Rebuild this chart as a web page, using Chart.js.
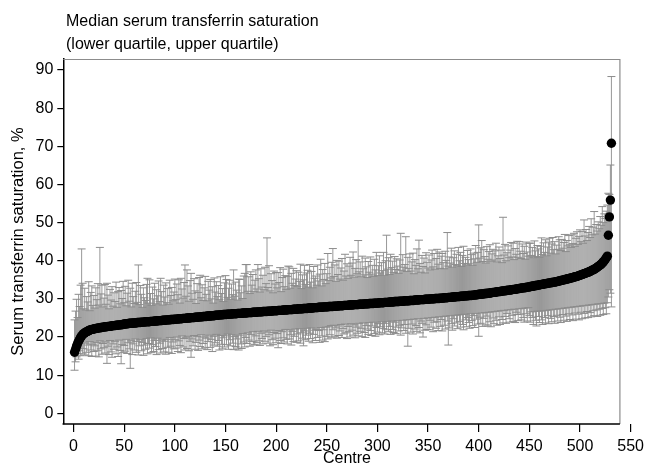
<!DOCTYPE html>
<html>
<head>
<meta charset="utf-8">
<script src="https://cdn.jsdelivr.net/npm/chart.js@4.4.1/dist/chart.umd.min.js"></script>
<style>
  html, body { margin: 0; padding: 0; background: #fff; }
  #wrap { width: 649px; height: 470px; }
</style>
</head>
<body>
<div id="wrap"><canvas id="chart" width="649" height="470"></canvas></div>
<script>
// Median serum transferrin saturation per centre, sorted, with quartiles

const median = [
  16.0,16.8,17.6,18.3,18.9,19.4,19.9,20.3,20.6,20.9,
  21.1,21.3,21.4,21.5,21.7,21.8,21.9,22.0,22.0,22.1,
  22.2,22.2,22.3,22.3,22.4,22.4,22.5,22.5,22.6,22.6,
  22.7,22.7,22.7,22.8,22.8,22.8,22.9,22.9,23.0,23.0,
  23.0,23.1,23.1,23.1,23.2,23.2,23.2,23.3,23.3,23.4,
  23.4,23.5,23.5,23.5,23.6,23.6,23.6,23.6,23.7,23.7,
  23.7,23.7,23.8,23.8,23.8,23.8,23.9,23.9,23.9,23.9,
  24.0,24.0,24.0,24.0,24.0,24.1,24.1,24.1,24.1,24.2,
  24.2,24.2,24.2,24.3,24.3,24.3,24.3,24.4,24.4,24.4,
  24.4,24.5,24.5,24.5,24.5,24.6,24.6,24.6,24.6,24.7,
  24.7,24.7,24.7,24.8,24.8,24.8,24.8,24.9,24.9,24.9,
  24.9,25.0,25.0,25.0,25.0,25.1,25.1,25.1,25.1,25.2,
  25.2,25.2,25.2,25.3,25.3,25.3,25.3,25.4,25.4,25.4,
  25.4,25.5,25.5,25.5,25.5,25.6,25.6,25.6,25.6,25.7,
  25.7,25.7,25.7,25.8,25.8,25.8,25.8,25.9,25.9,25.9,
  25.9,26.0,26.0,26.0,26.0,26.0,26.1,26.1,26.1,26.1,
  26.1,26.2,26.2,26.2,26.2,26.2,26.3,26.3,26.3,26.3,
  26.3,26.4,26.4,26.4,26.4,26.4,26.5,26.5,26.5,26.5,
  26.5,26.6,26.6,26.6,26.6,26.6,26.7,26.7,26.7,26.7,
  26.7,26.8,26.8,26.8,26.8,26.8,26.9,26.9,26.9,26.9,
  26.9,27.0,27.0,27.0,27.0,27.0,27.1,27.1,27.1,27.1,
  27.1,27.2,27.2,27.2,27.2,27.2,27.3,27.3,27.3,27.3,
  27.3,27.4,27.4,27.4,27.4,27.4,27.5,27.5,27.5,27.5,
  27.5,27.6,27.6,27.6,27.6,27.6,27.7,27.7,27.7,27.7,
  27.7,27.8,27.8,27.8,27.8,27.8,27.9,27.9,27.9,27.9,
  27.9,28.0,28.0,28.0,28.0,28.0,28.1,28.1,28.1,28.1,
  28.1,28.2,28.2,28.2,28.2,28.2,28.3,28.3,28.3,28.3,
  28.3,28.4,28.4,28.4,28.4,28.4,28.5,28.5,28.5,28.5,
  28.5,28.6,28.6,28.6,28.6,28.6,28.7,28.7,28.7,28.7,
  28.7,28.8,28.8,28.8,28.8,28.8,28.9,28.9,28.9,28.9,
  28.9,29.0,29.0,29.0,29.0,29.0,29.1,29.1,29.1,29.1,
  29.1,29.2,29.2,29.2,29.2,29.2,29.3,29.3,29.3,29.3,
  29.3,29.4,29.4,29.4,29.4,29.4,29.5,29.5,29.5,29.5,
  29.5,29.6,29.6,29.6,29.6,29.6,29.7,29.7,29.7,29.7,
  29.7,29.8,29.8,29.8,29.8,29.8,29.9,29.9,29.9,29.9,
  29.9,30.0,30.0,30.0,30.0,30.0,30.1,30.1,30.1,30.1,
  30.1,30.2,30.2,30.2,30.2,30.3,30.3,30.3,30.3,30.4,
  30.4,30.4,30.4,30.5,30.5,30.5,30.5,30.6,30.6,30.6,
  30.6,30.7,30.7,30.7,30.7,30.8,30.8,30.8,30.8,30.9,
  30.9,30.9,30.9,31.0,31.0,31.0,31.1,31.1,31.1,31.2,
  31.2,31.2,31.3,31.3,31.3,31.4,31.4,31.4,31.5,31.5,
  31.5,31.6,31.6,31.7,31.7,31.7,31.8,31.8,31.9,31.9,
  31.9,32.0,32.0,32.1,32.1,32.1,32.2,32.2,32.3,32.3,
  32.3,32.4,32.4,32.5,32.5,32.5,32.6,32.6,32.7,32.7,
  32.8,32.8,32.9,32.9,32.9,33.0,33.0,33.1,33.1,33.2,
  33.2,33.3,33.3,33.4,33.4,33.5,33.5,33.6,33.6,33.7,
  33.7,33.8,33.8,33.9,33.9,34.0,34.0,34.1,34.1,34.2,
  34.2,34.3,34.3,34.4,34.4,34.5,34.5,34.6,34.7,34.7,
  34.8,34.9,34.9,35.0,35.1,35.1,35.2,35.3,35.3,35.4,
  35.5,35.5,35.6,35.7,35.8,35.8,35.9,36.0,36.1,36.2,
  36.3,36.4,36.5,36.6,36.7,36.8,36.9,37.0,37.1,37.2,
  37.4,37.5,37.6,37.8,37.9,38.1,38.3,38.5,38.7,38.9,
  39.1,39.4,39.7,40.0,40.4,40.8,41.2,46.7,51.5,55.9,70.8
];

const lowerQ = [
  11.3,13.5,14.8,15.7,14.2,16.4,15.1,17.0,15.6,16.9,
  15.3,18.4,16.0,17.9,15.1,18.8,16.6,14.9,18.1,16.2,
  17.7,15.0,18.6,16.4,14.8,19.0,16.9,15.5,18.3,17.2,
  15.8,18.7,13.1,17.6,15.4,19.1,16.1,14.7,18.2,16.8,
  18.9,15.6,17.4,14.9,19.2,16.5,13.0,18.0,15.9,17.8,
  16.3,19.4,15.7,18.5,16.9,11.8,19.0,15.4,18.2,16.6,
  19.5,16.0,18.8,15.3,17.7,19.3,16.4,18.6,15.2,17.9,
  16.8,19.6,15.6,18.3,17.1,19.8,15.9,18.0,16.2,19.1,
  17.5,15.4,19.7,16.7,18.4,15.8,19.2,17.0,16.1,18.9,
  15.5,19.4,17.3,16.0,19.9,17.6,15.7,18.7,16.9,19.3,
  17.1,20.0,16.2,19.0,17.8,15.9,20.3,17.4,19.6,16.6,
  19.8,17.0,20.2,16.4,18.9,14.7,19.5,17.7,20.4,16.8,
  18.6,20.1,16.5,19.2,17.5,20.6,16.9,18.3,20.0,17.2,
  19.7,16.7,18.8,20.5,17.3,19.4,16.2,20.2,17.9,18.5,
  20.7,17.6,19.1,16.6,20.4,18.1,16.9,19.8,17.4,20.3,
  18.0,20.8,16.8,19.3,17.7,20.6,18.4,16.7,20.1,17.5,
  19.5,17.1,16.6,20.5,18.2,17.0,20.9,18.7,17.4,19.9,
  18.3,21.1,19.2,17.6,20.7,18.8,21.4,17.9,18.1,20.3,
  18.6,21.5,19.0,17.8,21.0,19.6,18.2,21.6,18.9,20.1,
  21.3,18.4,20.6,17.7,21.8,19.3,18.0,21.2,19.7,18.5,
  20.9,17.2,21.7,19.1,18.3,21.4,19.8,18.7,22.0,19.4,
  18.2,21.9,19.5,20.6,17.9,21.5,18.8,20.2,22.1,18.6,
  20.8,19.0,22.2,18.4,21.1,19.7,17.7,21.6,19.3,20.5,
  22.3,18.9,21.0,19.6,22.4,18.5,20.7,21.8,19.1,22.0,
  19.9,21.7,18.6,22.5,20.3,19.2,21.9,18.8,22.6,20.1,
  19.5,22.7,20.6,23.0,19.8,21.9,23.1,20.2,22.4,19.7,
  22.9,20.4,21.6,23.3,19.9,22.2,20.8,23.4,21.1,19.6,
  22.8,21.4,20.0,23.5,21.8,20.5,23.2,19.8,22.6,21.0,
  20.3,23.6,21.5,22.3,20.1,23.7,21.2,19.9,23.0,22.1,
  20.7,23.8,21.7,20.4,22.9,23.9,20.9,20.2,22.5,21.3,
  23.5,20.6,22.7,24.0,21.1,22.2,20.8,23.6,21.9,24.1,
  21.4,22.8,20.7,24.2,22.0,21.2,23.9,20.9,22.6,24.3,
  21.6,23.1,20.5,22.4,24.4,21.7,23.3,21.0,24.5,17.6,
  22.3,24.6,21.3,23.4,20.8,24.7,22.1,23.0,21.5,24.8,
  22.5,21.1,24.2,23.6,20.0,24.9,21.8,23.2,22.0,25.0,
  21.9,24.4,22.6,25.1,21.4,23.9,25.2,22.3,24.0,21.7,
  25.3,22.8,24.6,21.6,25.4,23.1,22.1,25.5,24.2,17.9,
  22.4,25.6,23.5,21.8,24.8,22.9,25.7,23.7,22.2,25.8,
  24.1,22.6,25.9,23.3,21.9,26.0,24.5,22.7,25.1,23.8,
  22.3,26.1,24.3,23.0,25.6,22.5,26.2,24.7,23.4,20.2,
  25.2,23.6,26.3,22.8,24.9,26.4,23.2,25.5,22.9,26.5,
  24.0,22.7,26.6,25.0,23.5,26.7,24.4,23.1,26.8,25.3,
  23.3,26.9,24.6,23.7,27.0,25.4,23.6,26.2,27.1,24.8,
  23.9,27.2,25.7,24.1,27.3,23.8,26.5,25.9,24.3,27.4,
  26.0,24.5,27.5,25.1,23.9,27.6,26.1,24.2,27.7,25.6,
  23.9,26.6,25.1,23.3,26.7,24.4,22.9,26.8,25.4,23.8,
  26.8,24.5,23.3,26.9,25.1,23.7,27.0,25.6,23.5,27.1,
  24.9,24.0,27.2,25.4,23.6,27.3,25.7,24.2,27.4,25.2,
  23.8,27.5,25.9,24.4,27.6,25.5,24.1,27.7,26.1,24.6,
  27.8,25.8,24.3,27.9,26.3,24.7,28.0,26.0,24.5,28.1,
  26.5,24.8,28.2,26.2,25.0,28.3,26.7,25.1,28.4,26.4,
  25.3,28.5,26.9,25.6,28.6,27.1,25.4,28.7,27.3,25.7,
  28.8,27.5,25.9,28.9,27.7,26.1,29.0,30.5,32.4,31.5,27.9
];

const upperQ = [
  24.5,26.8,29.9,25.1,31.2,28.0,33.6,43.1,34.1,27.4,
  32.8,27.1,30.6,29.2,34.5,26.9,31.7,33.4,28.3,30.9,
  27.6,32.9,29.8,34.0,28.4,43.5,31.3,33.6,27.9,30.2,
  33.8,28.6,34.1,31.0,27.4,32.5,29.7,33.2,28.1,31.6,
  29.3,34.4,27.8,31.9,33.0,28.7,32.2,30.1,34.6,29.0,
  33.3,28.2,31.5,34.9,29.4,32.8,27.9,34.1,30.6,28.8,
  32.0,34.3,29.1,38.9,28.5,33.5,31.2,27.8,32.9,30.3,
  29.6,33.8,35.4,28.9,35.0,31.4,28.3,33.1,30.0,34.1,
  28.7,32.4,30.8,34.7,29.3,35.4,31.9,28.4,33.6,30.5,
  34.2,29.0,32.7,28.6,34.9,30.9,33.0,29.5,31.8,35.2,
  29.8,33.9,31.1,35.0,28.9,35.4,32.6,30.2,34.3,38.9,
  30.7,37.6,33.4,29.4,34.8,36.7,31.5,29.9,35.3,32.1,
  28.8,34.0,31.7,35.6,36.2,30.3,33.7,29.6,32.9,35.9,
  31.2,29.5,34.6,32.3,35.1,30.0,33.2,28.9,35.5,31.8,
  34.5,30.6,33.5,29.8,35.8,31.4,32.7,29.3,34.2,36.1,
  35.1,30.4,32.8,34.9,29.9,33.9,31.1,37.6,30.7,34.4,
  32.3,29.7,35.2,35.1,31.6,33.4,30.1,36.0,36.7,39.0,
  39.0,32.0,35.8,31.4,37.1,33.6,36.4,31.9,34.9,37.6,
  32.6,39.0,35.3,31.8,37.9,33.1,36.2,32.4,38.3,34.0,
  46.0,33.0,38.7,32.1,36.6,34.8,31.6,37.3,33.9,36.9,
  32.9,36.9,34.3,38.2,31.9,35.6,37.8,33.2,36.1,32.5,
  35.9,38.6,38.4,32.8,36.7,34.1,38.0,33.5,35.2,37.4,
  33.3,37.0,34.6,39.1,32.7,36.3,35.0,38.8,33.8,36.8,
  37.5,33.1,39.0,34.4,37.2,32.9,38.5,35.4,36.0,33.6,
  38.9,34.7,36.5,40.4,33.4,37.7,35.1,39.3,34.0,36.6,
  41.9,34.8,38.3,35.5,39.6,43.2,35.9,38.9,34.6,40.1,
  36.4,39.9,35.2,38.1,40.6,34.9,37.3,41.7,36.0,39.2,
  35.4,38.6,40.9,36.2,39.4,42.3,35.7,38.0,40.3,36.6,
  45.3,37.1,39.7,35.8,41.2,37.9,36.3,40.7,38.4,35.6,
  39.8,37.0,41.0,36.5,38.8,35.9,40.4,37.6,42.2,36.1,
  38.7,41.3,36.8,39.5,37.4,42.2,36.2,40.0,46.7,37.8,
  40.8,36.4,41.7,38.2,39.9,36.9,41.1,37.7,40.5,38.6,
  36.7,40.2,47.2,37.5,41.6,38.3,39.0,46.3,37.2,40.9,
  38.0,41.8,37.3,39.7,42.0,36.6,40.3,38.8,43.1,37.9,
  45.4,39.3,37.0,41.4,38.5,40.7,36.8,42.1,39.6,38.1,
  41.5,37.6,40.2,42.8,38.4,41.9,37.8,40.6,43.0,39.1,
  42.3,38.0,41.2,41.9,39.5,37.9,42.5,40.1,47.4,38.6,
  41.0,39.4,43.3,38.3,40.8,42.6,39.0,41.7,38.7,43.5,
  40.0,42.2,38.5,41.4,43.8,39.3,40.9,38.9,42.7,40.3,
  39.2,43.1,41.6,38.8,42.0,40.5,44.0,39.6,42.2,49.4,
  40.7,43.4,45.3,39.8,42.9,41.1,39.4,43.7,40.4,42.4,
  44.2,39.9,41.8,43.0,40.2,42.6,44.6,39.7,41.3,43.6,
  40.6,42.8,39.5,51.4,41.5,44.3,40.0,42.1,43.9,40.8,
  42.8,44.8,41.0,44.6,40.3,43.2,41.7,45.1,40.9,45.0,
  42.5,40.6,44.4,41.9,43.8,40.4,44.9,42.3,41.2,44.6,
  44.6,41.4,43.5,40.8,45.2,42.6,41.1,44.0,43.1,40.9,
  43.8,46.0,41.6,44.7,42.2,45.5,41.3,43.6,44.9,45.9,
  42.0,44.4,46.1,42.9,45.0,41.8,44.1,43.0,46.3,45.5,
  42.7,45.6,43.3,44.8,46.9,42.4,45.3,43.9,46.6,44.2,
  43.5,46.8,44.5,47.2,43.8,45.9,47.6,44.3,46.4,48.1,
  45.0,47.7,44.6,50.7,46.5,48.2,45.3,47.4,49.0,46.1,
  51.0,46.8,48.8,52.9,47.0,49.5,47.8,50.2,48.4,51.6,
  49.3,54.2,50.0,52.3,51.1,53.0,54.6,57.7,57.4,65.1,88.3
];

const xTicks = [0, 50, 100, 150, 200, 250, 300, 350, 400, 450, 500, 550];
const yTicks = [0, 10, 20, 30, 40, 50, 60, 70, 80, 90];

const titleLines = ['Median serum transferrin saturation', '(lower quartile, upper quartile)'];
const yTitle = 'Serum transferrin saturation, %';
const xTitle = 'Centre';

const GREY = '#8c8c8c';
const FONT = '"Liberation Sans", Arial, sans-serif';
const frameEnd = 539.4; // where the plot frame stops on the x axis

Chart.defaults.font.family = FONT;
Chart.defaults.font.size = 16;
Chart.defaults.color = '#000';

// centre numbers follow the sort order
const centres = median.map((_, i) => i + 1);

const whiskerPts = [];
const capPts = [];
centres.forEach((c, i) => {
  whiskerPts.push({ x: c, y: lowerQ[i] }, { x: c, y: upperQ[i] }, { x: c, y: null });
  capPts.push({ x: c, y: lowerQ[i] }, { x: c, y: upperQ[i] });
});

const titlePlugin = {
  id: 'stataTitle',
  afterDraw(chart) {
    const ctx = chart.ctx;
    ctx.save();
    ctx.font = '16px ' + FONT;
    ctx.fillStyle = '#000';
    ctx.textBaseline = 'alphabetic';
    titleLines.forEach((t, i) => ctx.fillText(t, 66, 26 + i * 23));
    ctx.restore();
  }
};

const framePlugin = {
  id: 'frame',
  afterDraw(chart) {
    const { ctx, chartArea: a, scales: { x } } = chart;
    const xr = x.getPixelForValue(frameEnd);
    ctx.save();
    ctx.strokeStyle = GREY;
    ctx.lineWidth = 1.2;
    ctx.beginPath();
    ctx.moveTo(a.left, a.top + 0.5);
    ctx.lineTo(xr, a.top + 0.5);
    ctx.lineTo(xr, a.bottom);
    ctx.stroke();
    ctx.strokeStyle = '#000';
    ctx.lineWidth = 1.5;
    ctx.beginPath();
    ctx.moveTo(a.left - 0.75, a.bottom);
    ctx.lineTo(xr, a.bottom);
    ctx.stroke();
    ctx.restore();
  }
};

new Chart(document.getElementById('chart'), {
  type: 'scatter',
  data: {
    datasets: [
      {
        label: 'Median',
        data: centres.map((c, i) => ({ x: c, y: median[i] })),
        pointRadius: 4.7,
        pointBorderWidth: 0,
        backgroundColor: '#000',
        borderColor: '#000'
      },
      {
        label: 'Quartile caps',
        data: capPts,
        pointStyle: 'line',
        pointRadius: 4,
        pointBorderWidth: 1,
        borderColor: GREY,
        backgroundColor: GREY
      },
      {
        label: 'Quartile range',
        data: whiskerPts,
        showLine: true,
        spanGaps: false,
        pointRadius: 0,
        borderWidth: 0.9,
        borderColor: GREY
      }
    ]
  },
  options: {
    responsive: false,
    animation: false,
    devicePixelRatio: 1,
    events: [],
    layout: {
      autoPadding: false,
      padding: { top: 59, right: 8.8, bottom: 0, left: 0 }
    },
    plugins: {
      legend: { display: false },
      tooltip: { enabled: false },
      title: { display: false }
    },
    scales: {
      x: {
        type: 'linear',
        min: -10.1,
        max: 550,
        afterBuildTicks: s => { s.ticks = xTicks.map(v => ({ value: v })); },
        afterFit: s => { s.height = 46; },
        border: { display: false },
        grid: { drawOnChartArea: false, drawTicks: true, tickLength: 8, color: '#000', lineWidth: 1.2 },
        ticks: { color: '#000', padding: 5, maxRotation: 0, autoSkip: false },
        title: { display: true, text: xTitle, color: '#000', padding: { top: 0, bottom: 2 } }
      },
      y: {
        type: 'linear',
        min: -2.8,
        max: 92.9,
        afterBuildTicks: s => { s.ticks = yTicks.map(v => ({ value: v })); },
        afterFit: s => { s.width = 63.3; },
        border: { display: true, color: '#000', width: 1.5 },
        grid: { drawOnChartArea: false, drawTicks: true, tickLength: 6, color: '#000', lineWidth: 1.2 },
        ticks: { color: '#000', padding: 4 },
        title: { display: true, text: yTitle, color: '#000', font: { size: 16.5 }, padding: { top: 9, bottom: 0 } }
      }
    }
  },
  plugins: [titlePlugin, framePlugin]
});
</script>
</body>
</html>
